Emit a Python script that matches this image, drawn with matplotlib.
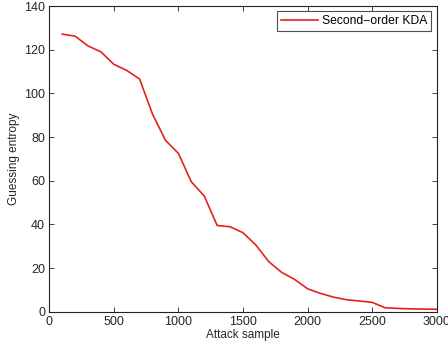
import matplotlib
matplotlib.use("Agg")
import matplotlib.pyplot as plt

attack_samples = [100, 200, 300, 400, 500, 600, 700, 800, 900, 1000,
                  1100, 1200, 1300, 1400, 1500, 1600, 1700, 1800, 1900, 2000,
                  2100, 2200, 2300, 2400, 2500, 2600, 2700, 2800, 2900, 3000]
guessing_entropy = [127.1, 126.2, 121.7, 119.0, 113.3, 110.5, 106.5, 90.4, 78.5, 72.5,
                    59.5, 53.0, 39.5, 38.9, 36.2, 30.5, 22.9, 18.0, 14.8, 10.5,
                    8.4, 6.7, 5.5, 4.9, 4.3, 1.8, 1.5, 1.3, 1.2, 1.1]
series_label = "Second\u2212order KDA"
x_ticks = [0, 500, 1000, 1500, 2000, 2500, 3000]
y_ticks = [0, 20, 40, 60, 80, 100, 120, 140]

plt.rcParams['font.family'] = ['Liberation Sans', 'DejaVu Sans']

fig = plt.figure(figsize=(4.48, 3.47), dpi=100)
ax = fig.add_axes([0.110, 0.1017, 0.8647, 0.881])
ax.plot(attack_samples, guessing_entropy, color='#e2231a', lw=1.2, label=series_label)
ax.set_xlim(0, 3000)
ax.set_ylim(0, 140)
ax.set_xticks(x_ticks)
ax.set_yticks(y_ticks)
ax.tick_params(direction='in', top=True, right=True, length=3.5, width=0.6,
               labelsize=9, pad=3, colors='#222222', labelcolor='#262626')
for s in ax.spines.values():
    s.set_linewidth(0.8)
    s.set_color('#222222')
ax.set_xlabel("Attack sample", fontsize=8.5, labelpad=1, color='#262626')
ax.set_ylabel("Guessing entropy", fontsize=8.5, labelpad=3, color='#262626')
leg = ax.legend(loc='upper right', fontsize=8.7, frameon=True, fancybox=False,
                borderaxespad=0.45, handlelength=3.1, borderpad=0.3, handletextpad=0.35)
leg.get_frame().set_edgecolor('#222222')
leg.get_frame().set_linewidth(0.8)
fig.savefig("out.png", dpi=100)
